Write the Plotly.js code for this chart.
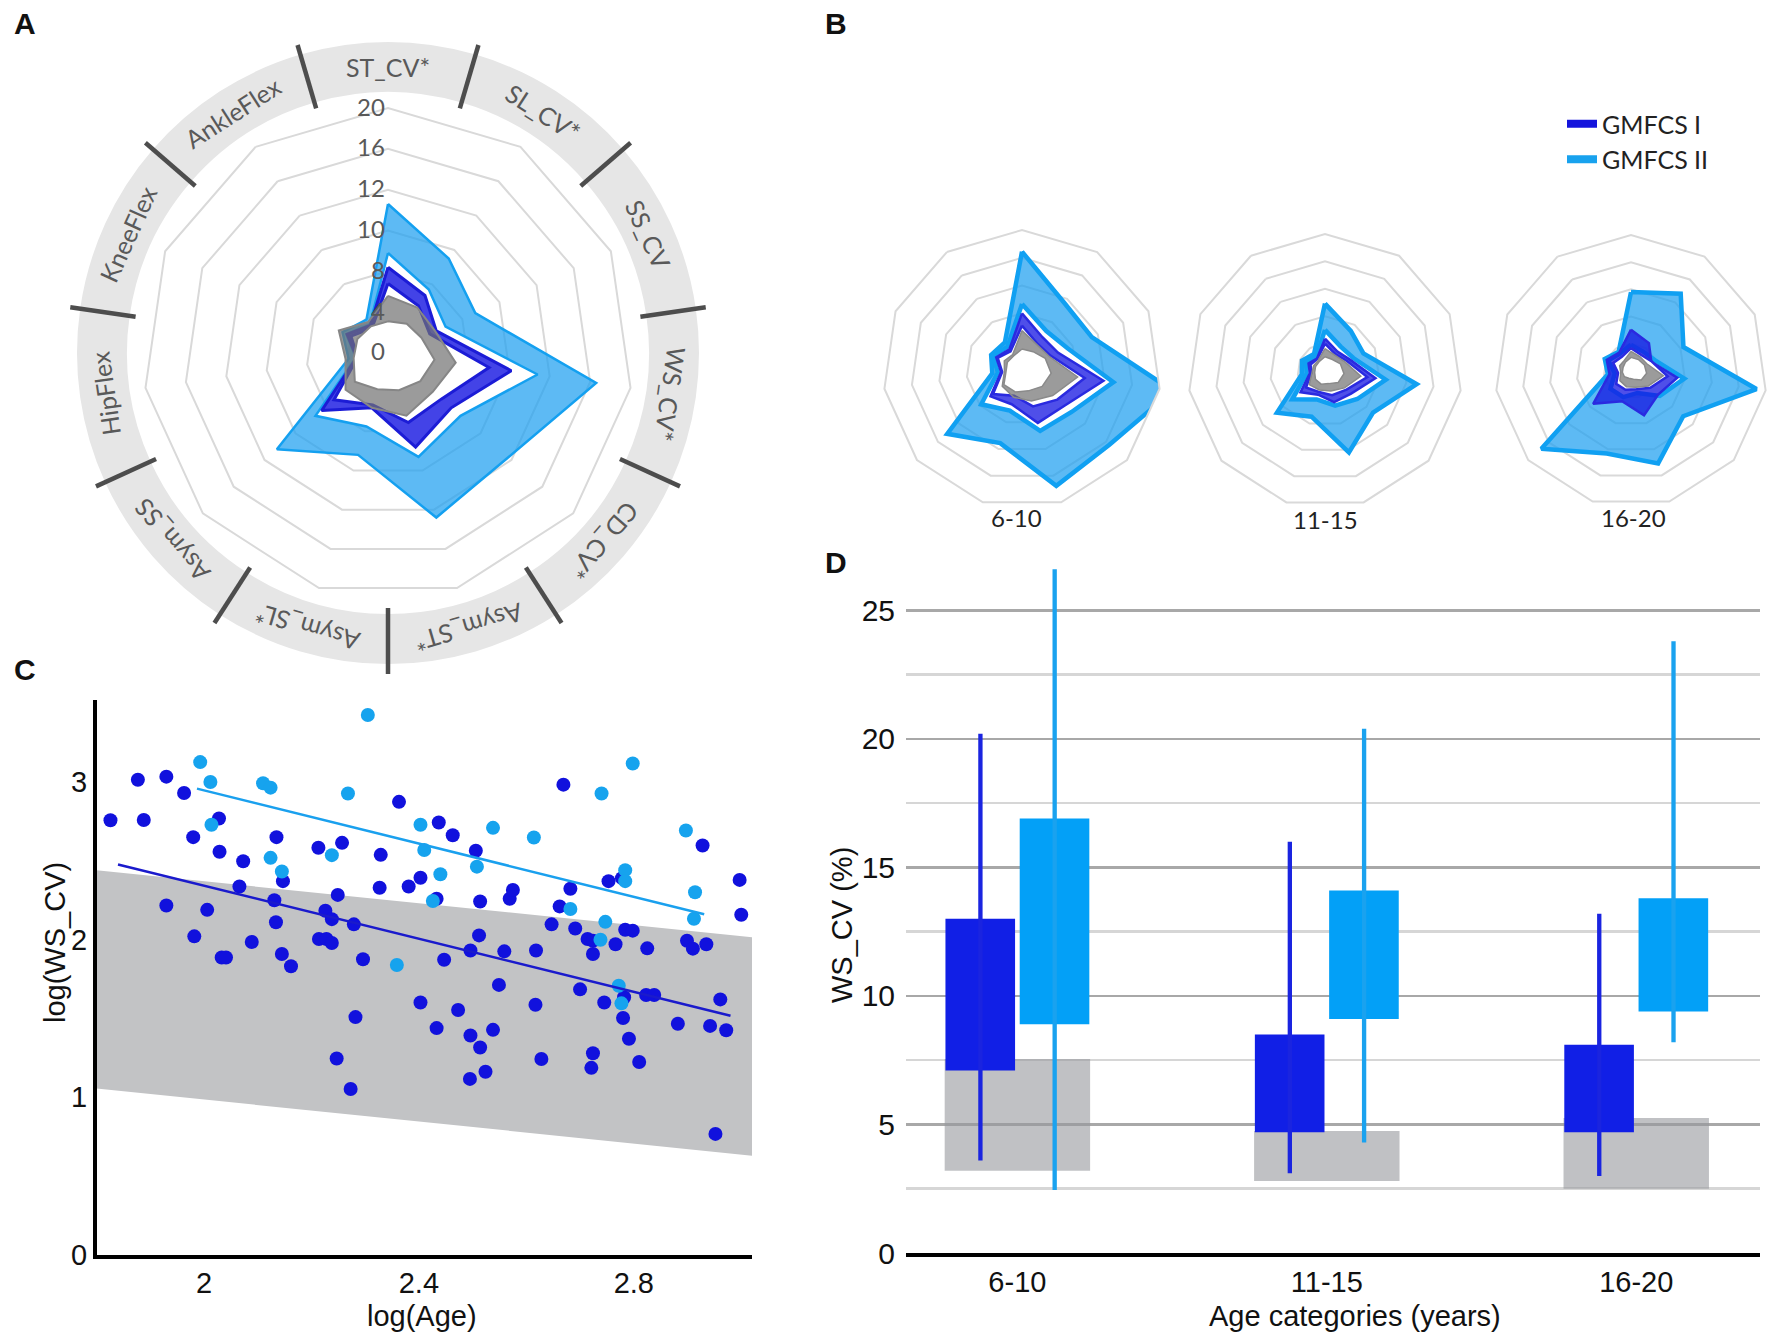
<!DOCTYPE html>
<html>
<head>
<meta charset="utf-8">
<script src="https://cdn.plot.ly/plotly-3.0.1.min.js"></script>
<style>html,body{margin:0;padding:0;background:#fff;}</style>
</head>
<body>
<div id="chart" style="width:1772px;height:1336px"></div>
<script>
// ---------------- DATA ----------------
// Panel A : radar of gait parameters (all ages)
const radarCategories = ['ST_CV*','SL_CV*','SS_CV','WS_CV*','CD_CV*','Asym_ST*','Asym_SL*','Asym_SS','HipFlex','KneeFlex','AnkleFlex'];
const radialTickLabels = [0, 4, 8, 10, 12, 16, 20];
const aGmfcs2Upper = [11.3, 9.5, 8.7, 16.6, 11.8, 12.8, 9.2, 11.2, 3.9, 4.9, 3.9];
const aGmfcs2Lower = [8.9, 7.4, 6.2, 11.4, 8.7, 9.3, 7.5, 8.7, 3.2, 4.5, 3.3];
const aGmfcs1Upper = [8.2, 6.7, 5.2, 10.1, 8.1, 8.8, 5.6, 8.3, 3.1, 4.4, 3.2];
const aGmfcs1Lower = [6.8, 5.5, 4.5, 9.0, 6.9, 7.1, 5.3, 7.0, 3.0, 4.0, 2.9];
const aTdUpper     = [5.6, 5.3, 5.1, 6.7, 5.8, 6.4, 5.6, 5.5, 4.2, 5.3, 3.6];
const aTdLower     = [3.1, 3.4, 3.6, 4.6, 4.2, 3.8, 3.7, 4.3, 3.4, 3.3, 3.1];

// Panel B : radars per age category
const ageCategories = ['6-10', '11-15', '16-20'];
const b610Gmfcs2Upper = [21.1, 14.1, 13.8, 27.4, 20.8, 21.9, 13.9, 17.8, 5.4, 6.1, 5.7];
const b610Gmfcs2Lower = [11.7, 8.1, 9.0, 16.6, 11.8, 11.6, 7.8, 9.7, 4.4, 5.7, 4.8];
const b610Gmfcs1Upper = [10.0, 6.8, 7.1, 14.8, 10.1, 10.1, 6.6, 7.5, 3.8, 5.1, 4.2];
const b610Gmfcs1Lower = [7.8, 5.3, 5.7, 11.4, 8.4, 7.0, 5.0, 6.9, 3.6, 4.8, 3.8];
const b610TdUpper     = [6.9, 5.1, 5.4, 10.1, 7.3, 6.0, 5.3, 4.7, 3.2, 3.5, 3.1];
const b610TdLower     = [3.6, 3.7, 4.6, 5.3, 4.8, 4.1, 4.3, 4.3, 2.9, 2.9, 2.8];

const b1115Gmfcs2Upper = [12.3, 8.7, 7.7, 16.9, 11.6, 15.5, 8.7, 11.6, 4.3, 4.6, 3.7];
const b1115Gmfcs2Lower = [7.5, 5.3, 5.7, 11.2, 7.8, 6.6, 5.4, 7.9, 3.4, 3.8, 3.0];
const b1115Gmfcs1Upper = [5.9, 4.2, 5.0, 9.3, 6.3, 5.9, 4.5, 5.9, 2.8, 3.3, 2.7];
const b1115Gmfcs1Lower = [5.0, 3.6, 4.4, 7.8, 5.2, 4.6, 4.0, 4.6, 2.5, 2.9, 2.6];
const b1115TdUpper     = [4.1, 3.4, 4.0, 6.6, 4.7, 3.8, 3.6, 3.8, 2.4, 2.3, 2.3];
const b1115TdLower     = [2.6, 2.5, 3.1, 3.5, 3.2, 2.4, 2.5, 2.3, 1.9, 1.9, 2.0];

const b1620Gmfcs2Upper = [14.5, 16.9, 10.6, 23.3, 12.7, 17.7, 15.8, 21.8, 4.3, 5.3, 4.2];
const b1620Gmfcs2Lower = [4.8, 4.2, 4.8, 9.9, 7.0, 4.2, 5.0, 5.0, 3.0, 4.6, 3.8];
const b1620Gmfcs1Upper = [7.6, 6.1, 4.1, 8.6, 6.6, 8.5, 5.8, 9.2, 4.0, 4.9, 4.0];
const b1620Gmfcs1Lower = [4.2, 3.5, 4.2, 6.8, 4.7, 3.5, 3.6, 3.6, 2.4, 3.6, 3.1];
const b1620TdUpper     = [3.6, 3.1, 3.2, 6.0, 4.2, 3.1, 3.0, 2.7, 1.9, 2.3, 2.3];
const b1620TdLower     = [2.5, 2.5, 2.7, 2.9, 2.5, 1.6, 1.4, 1.6, 1.6, 1.6, 1.9];

// Panel C : log(WS_CV) vs log(Age)
const cGmfcs1LogAge = [1.826,1.877,1.888,1.930,1.963,1.980,2.028,2.029,1.930,2.006,1.982,2.073,2.066,2.089,2.033,2.041,
  2.135,2.131,2.134,2.147,2.145,2.162,2.213,2.226,2.214,2.228,2.238,2.238,2.249,2.257,2.279,2.296,2.282,2.247,2.273,
  2.329,2.327,2.363,2.381,2.403,2.433,2.437,2.463,2.447,2.403,2.433,2.473,2.496,2.495,2.514,2.524,2.538,2.496,2.512,
  2.506,2.514,2.549,2.559,2.569,2.575,2.618,2.617,2.628,2.647,2.662,2.669,2.682,2.691,2.700,2.714,2.724,2.721,2.724,
  2.724,2.745,2.753,2.766,2.780,2.782,2.791,2.784,2.798,2.810,2.823,2.838,2.825,2.882,2.899,2.910,2.928,2.935,2.942,
  2.952,2.961,2.972,2.997,3.000,2.778];
const cGmfcs1LogWs = [2.757,3.014,2.759,3.034,2.930,2.650,2.768,2.558,2.217,2.189,2.021,2.497,2.337,1.985,1.887,1.887,
  2.650,2.250,2.110,2.371,1.909,1.831,2.583,2.183,2.004,2.004,1.979,2.130,2.284,2.614,2.097,1.876,1.509,1.246,1.053,
  2.538,2.329,2.874,2.337,2.393,2.259,2.743,2.662,1.873,1.601,1.439,1.554,1.392,1.117,1.316,1.162,1.428,1.931,2.027,
  2.564,2.242,1.713,1.926,2.259,2.315,1.931,1.587,1.243,2.097,2.211,2.983,2.323,2.071,1.685,2.004,1.993,1.187,1.280,
  1.909,1.601,2.371,1.971,1.503,1.635,1.372,2.063,2.057,1.224,1.649,1.649,1.945,1.467,1.993,1.943,2.597,1.971,1.453,
  0.768,1.621,1.425,2.379,2.158,2.390];
const cGmfcs2LogAge = [1.993,2.012,2.014,2.110,2.124,2.124,2.145,2.268,2.238,2.305,2.359,2.403,2.410,2.440,2.426,2.508,
  2.538,2.614,2.682,2.738,2.740,2.747,2.772,2.777,2.784,2.784,2.798,2.897,2.914,2.912];
const cGmfcs2LogWs = [3.126,3.000,2.729,2.992,2.964,2.519,2.432,2.927,2.536,3.425,1.839,2.729,2.569,2.415,2.245,2.463,
  2.709,2.648,2.194,1.999,2.927,2.113,1.708,1.596,2.441,2.371,3.117,2.692,2.301,2.133];
const cFitGmfcs1 = {x: [1.84, 2.98], y: [2.477, 1.517]};
const cFitGmfcs2 = {x: [1.987, 2.931], y: [2.958, 2.161]};
const cTdBandX = [1.80, 3.02];
const cTdBandUpper = [2.44, 2.015];
const cTdBandLower = [1.056, 0.63];

// Panel D : WS_CV (%) by age category
const dGmfcs1Q1 = [7.1, 4.7, 4.7];
const dGmfcs1Q3 = [13.0, 8.5, 8.1];
const dGmfcs1Min = [3.6, 3.1, 3.0];
const dGmfcs1Max = [20.2, 16.0, 13.2];
const dGmfcs2Q1 = [8.9, 9.1, 9.4];
const dGmfcs2Q3 = [16.9, 14.1, 13.8];
const dGmfcs2Min = [2.45, 4.3, 8.2];
const dGmfcs2Max = [26.6, 20.4, 23.8];
const dTdLow = [3.2, 2.8, 2.5];
const dTdHigh = [7.55, 4.75, 5.25];

// ---------------- HELPERS ----------------
const W = 1772, H = 1336;
const DB = '#1414DC', LB = '#18A2EE';
const A_CX = 388, A_CY = 353, A_R = 245;
function dom(cx, cy, R) {
  return {x: [(cx - R) / W, (cx + R) / W], y: [1 - (cy + R) / H, 1 - (cy - R) / H]};
}
function closed(a) { return a.concat([a[0]]); }
function toPos(v) { // map label value to evenly spaced ring position
  const t = radialTickLabels;
  for (let i = 1; i < t.length; i++) {
    if (v <= t[i]) return (i - 1) + (v - t[i - 1]) / (t[i] - t[i - 1]);
  }
  const n = t.length;
  return (n - 1) + (v - t[n - 1]) / (t[n - 1] - t[n - 2]);
}
function band(sub, upper, lower, fill, line, lw, map) {
  const th = closed(radarCategories);
  return [
    {type: 'scatterpolar', subplot: sub, r: closed(upper.map(map)), theta: th, mode: 'lines',
     fill: 'toself', fillcolor: fill, line: {color: line, width: lw}, showlegend: false, cliponaxis: false, hoverinfo: 'skip'},
    {type: 'scatterpolar', subplot: sub, r: closed(lower.map(map)), theta: th, mode: 'lines',
     fill: 'toself', fillcolor: '#ffffff', line: {color: line, width: lw}, showlegend: false, cliponaxis: false, hoverinfo: 'skip'}
  ];
}
const ident = v => v;
const LBFILL = 'rgba(30,160,240,0.72)', DBFILL = 'rgba(20,20,225,0.8)', TDFILL = 'rgba(112,112,112,0.7)';

// ---------------- TRACES ----------------
let traces = [];

// Panel A ring (polar2)
const nCat = radarCategories.length;
const step = 360 / nCat;
const ringTheta = radarCategories.map((c, i) => i * step);
traces.push({type: 'barpolar', subplot: 'polar2', r: radarCategories.map(() => 50), base: radarCategories.map(() => 261),
  theta: ringTheta, width: radarCategories.map(() => step), marker: {color: '#e6e6e6', line: {width: 0}},
  showlegend: false, hoverinfo: 'skip'});
let divR = [], divT = [];
radarCategories.forEach((c, i) => { divR.push(255, 321, null); divT.push((i + 0.5) * step, (i + 0.5) * step, null); });
traces.push({type: 'scatterpolar', subplot: 'polar2', r: divR, theta: divT, mode: 'lines',
  line: {color: '#4d4d4d', width: 4.5}, showlegend: false, hoverinfo: 'skip', cliponaxis: false});

// Panel A radar
traces = traces.concat(band('polar', aGmfcs2Upper, aGmfcs2Lower, LBFILL, '#14A0F0', 2.5, toPos));
traces = traces.concat(band('polar', aGmfcs1Upper, aGmfcs1Lower, DBFILL, '#1c1cd6', 3, toPos));
traces = traces.concat(band('polar', aTdUpper, aTdLower, TDFILL, '#868686', 2, toPos));

// Panel B radars
const bSets = [
  ['polar3', b610Gmfcs2Upper, b610Gmfcs2Lower, b610Gmfcs1Upper, b610Gmfcs1Lower, b610TdUpper, b610TdLower],
  ['polar4', b1115Gmfcs2Upper, b1115Gmfcs2Lower, b1115Gmfcs1Upper, b1115Gmfcs1Lower, b1115TdUpper, b1115TdLower],
  ['polar5', b1620Gmfcs2Upper, b1620Gmfcs2Lower, b1620Gmfcs1Upper, b1620Gmfcs1Lower, b1620TdUpper, b1620TdLower]
];
bSets.forEach(s => {
  traces = traces.concat(band(s[0], s[1], s[2], LBFILL, '#10A0F2', 4.5, ident));
  traces = traces.concat(band(s[0], s[3], s[4], 'rgba(20,20,225,0.75)', '#2a2ae0', 2.5, ident));
  traces = traces.concat(band(s[0], s[5], s[6], TDFILL, '#8a8a8a', 1.5, ident));
});

// Panel C
traces.push({type: 'scatter', x: [cTdBandX[0], cTdBandX[1], cTdBandX[1], cTdBandX[0]],
  y: [cTdBandUpper[0], cTdBandUpper[1], cTdBandLower[1], cTdBandLower[0]], fill: 'toself',
  fillcolor: '#c2c3c5', line: {width: 0}, mode: 'lines', showlegend: false, hoverinfo: 'skip', xaxis: 'x', yaxis: 'y'});
traces.push({type: 'scatter', x: cGmfcs1LogAge, y: cGmfcs1LogWs, mode: 'markers',
  marker: {color: '#1111DD', size: 14}, showlegend: false, xaxis: 'x', yaxis: 'y'});
traces.push({type: 'scatter', x: cGmfcs2LogAge, y: cGmfcs2LogWs, mode: 'markers',
  marker: {color: '#16A3EE', size: 14}, showlegend: false, xaxis: 'x', yaxis: 'y'});
traces.push({type: 'scatter', x: cFitGmfcs1.x, y: cFitGmfcs1.y, mode: 'lines',
  line: {color: '#1a1acc', width: 2.5}, showlegend: false, xaxis: 'x', yaxis: 'y'});
traces.push({type: 'scatter', x: cFitGmfcs2.x, y: cFitGmfcs2.y, mode: 'lines',
  line: {color: '#1aa0ee', width: 2.5}, showlegend: false, xaxis: 'x', yaxis: 'y'});

// Legend entries
traces.push({type: 'scatter', x: [null], y: [null], mode: 'lines', name: 'GMFCS I', legendgroup: 'g1',
  line: {color: DB, width: 8}, xaxis: 'x', yaxis: 'y'});
traces.push({type: 'scatter', x: [null], y: [null], mode: 'lines', name: 'GMFCS II', legendgroup: 'g2',
  line: {color: LB, width: 8}, xaxis: 'x', yaxis: 'y'});

// Panel D
const dx = ageCategories.map((c, i) => i);
const diff = (a, b) => a.map((v, i) => v - b[i]);
traces.push({type: 'bar', x: dx, y: diff(dTdHigh, dTdLow), base: dTdLow, offset: -0.235, width: 0.47,
  marker: {color: 'rgba(150,152,156,0.6)', line: {width: 0}}, showlegend: false, xaxis: 'x2', yaxis: 'y2', hoverinfo: 'skip'});
traces.push({type: 'bar', x: dx, y: diff(dGmfcs1Q3, dGmfcs1Q1), base: dGmfcs1Q1, offset: -0.2325, width: 0.225,
  marker: {color: '#111FE6', line: {width: 0}}, showlegend: false, xaxis: 'x2', yaxis: 'y2'});
traces.push({type: 'bar', x: dx, y: diff(dGmfcs2Q3, dGmfcs2Q1), base: dGmfcs2Q1, offset: 0.0075, width: 0.225,
  marker: {color: '#03A0F7', line: {width: 0}}, showlegend: false, xaxis: 'x2', yaxis: 'y2'});
traces.push({type: 'bar', x: dx, y: diff(dGmfcs1Max, dGmfcs1Min), base: dGmfcs1Min, offset: -0.1265, width: 0.014,
  marker: {color: '#1a24e0', line: {width: 0}}, showlegend: false, xaxis: 'x2', yaxis: 'y2'});
traces.push({type: 'bar', x: dx, y: diff(dGmfcs2Max, dGmfcs2Min), base: dGmfcs2Min, offset: 0.1135, width: 0.014,
  marker: {color: '#1aa2ef', line: {width: 0}}, showlegend: false, xaxis: 'x2', yaxis: 'y2'});

// ---------------- LAYOUT ----------------
const radarBase = (cx, cy, R) => ({
  domain: dom(cx, cy, R), bgcolor: 'rgba(0,0,0,0)', gridshape: 'linear',
  radialaxis: {range: [0, 25], tickvals: [5, 10, 15, 20], showticklabels: false, ticks: '', showline: false,
    gridcolor: '#d9d9d9', gridwidth: 2},
  angularaxis: {type: 'category', categoryarray: radarCategories, rotation: 90, direction: 'clockwise',
    showticklabels: false, ticks: '', showgrid: false, showline: true, linecolor: '#d9d9d9', linewidth: 2}
});

const annotations = [];
// radial tick labels of panel A (evenly spaced rings)
radialTickLabels.forEach((v, i) => {
  annotations.push({xref: 'paper', yref: 'paper', x: (A_CX - 1) / W, y: 1 - (A_CY - 2 - i * A_R / (radialTickLabels.length - 1)) / H,
    text: String(v), showarrow: false, xanchor: 'right', yanchor: 'middle',
    font: {family: 'Lato, Open Sans, sans-serif', size: 24, color: '#595959'}});
});
// ring labels
radarCategories.forEach((c, i) => {
  const th = i * step, rad = th * Math.PI / 180, rr = 286;
  annotations.push({xref: 'paper', yref: 'paper', x: (A_CX + rr * Math.sin(rad)) / W, y: 1 - (A_CY - rr * Math.cos(rad)) / H,
    text: c, showarrow: false, xanchor: 'center', yanchor: 'middle', textangle: th > 180 ? th - 360 : th,
    font: {family: 'Lato, Open Sans, sans-serif', size: 25, color: '#595959'}});
});
// B labels
[[1017, 517], [1325, 519], [1633, 517]].forEach((p, i) => {
  annotations.push({xref: 'paper', yref: 'paper', x: p[0] / W, y: 1 - p[1] / H, text: ageCategories[i], showarrow: false,
    xanchor: 'center', yanchor: 'middle', font: {family: 'Lato, Open Sans, sans-serif', size: 24, color: '#222'}});
});
// panel letters
[['A', 25, 23], ['B', 836, 23], ['C', 25, 669], ['D', 836, 562]].forEach(p => {
  annotations.push({xref: 'paper', yref: 'paper', x: p[1] / W, y: 1 - p[2] / H, text: '<b>' + p[0] + '</b>', showarrow: false,
    xanchor: 'center', yanchor: 'middle', font: {family: 'Liberation Sans, Arial, sans-serif', size: 30, color: '#111'}});
});
// axis titles placed as in the reference
const axFont = {family: 'Liberation Sans, Arial, sans-serif', size: 29, color: '#111'};
const dFont = {family: 'Liberation Sans, Arial, sans-serif', size: 29, color: '#111'};
annotations.push({xref: 'paper', yref: 'paper', x: 55 / W, y: 1 - 943 / H, text: 'log(WS_CV)', textangle: -90,
  showarrow: false, xanchor: 'center', yanchor: 'middle', font: axFont});
annotations.push({xref: 'paper', yref: 'paper', x: 422 / W, y: 1 - 1316 / H, text: 'log(Age)',
  showarrow: false, xanchor: 'center', yanchor: 'middle', font: axFont});
annotations.push({xref: 'paper', yref: 'paper', x: 842 / W, y: 1 - 925 / H, text: 'WS_CV (%)', textangle: -90,
  showarrow: false, xanchor: 'center', yanchor: 'middle', font: dFont});
annotations.push({xref: 'paper', yref: 'paper', x: 1355 / W, y: 1 - 1316 / H, text: 'Age categories (years)',
  showarrow: false, xanchor: 'center', yanchor: 'middle', font: dFont});

const layout = {
  width: W, height: H, margin: {l: 0, r: 0, t: 0, b: 0}, paper_bgcolor: '#ffffff', plot_bgcolor: 'rgba(0,0,0,0)',
  showlegend: true, barmode: 'overlay',
  legend: {x: 1562 / W, y: 1 - 101 / H, xanchor: 'left', yanchor: 'top', bgcolor: 'rgba(0,0,0,0)', itemwidth: 30,
    font: {family: 'Lato, Open Sans, sans-serif', size: 25, color: '#222'}, tracegroupgap: 0},
  polar: {
    domain: dom(A_CX, A_CY, A_R), bgcolor: 'rgba(0,0,0,0)', gridshape: 'linear',
    radialaxis: {range: [0, 6], tickvals: radialTickLabels.map((v, i) => i), showticklabels: false,
      angle: 90, showline: false, ticks: '', gridcolor: '#d9d9d9', gridwidth: 2},
    angularaxis: {type: 'category', categoryarray: radarCategories, rotation: 90, direction: 'clockwise',
      showticklabels: false, ticks: '', showgrid: false, showline: true, linecolor: '#d9d9d9', linewidth: 2}
  },
  polar2: {
    domain: dom(A_CX, A_CY, 326), bgcolor: 'rgba(0,0,0,0)',
    radialaxis: {range: [0, 326], visible: false},
    angularaxis: {rotation: 90, direction: 'clockwise', visible: false}
  },
  polar3: radarBase(1022, 369, 139),
  polar4: radarBase(1325, 371, 137),
  polar5: radarBase(1631, 371, 136),
  xaxis: {domain: [96.5 / W, 752 / W], range: [1.8, 3.02], tickvals: [2, 2.4, 2.8], ticktext: ['2', '2.4', '2.8'],
    showline: true, linecolor: '#000', linewidth: 3.5, ticks: '', showgrid: false, zeroline: false,
    tickfont: axFont, anchor: 'y'},
  yaxis: {domain: [1 - 1255 / H, 1 - 700 / H], range: [0, 3.52], tickvals: [0, 1, 2, 3],
    showline: true, linecolor: '#000', linewidth: 3.5, ticks: '', showgrid: false, zeroline: false,
    tickfont: axFont, anchor: 'x'},
  xaxis2: {domain: [906 / W, 1760 / W], range: [-0.36, 2.4], tickvals: dx, ticktext: ageCategories,
    showline: true, linecolor: '#000', linewidth: 4, ticks: '', showgrid: false, zeroline: false,
    tickfont: dFont, anchor: 'y2'},
  yaxis2: {domain: [1 - 1253 / H, 1 - 559 / H], range: [0, 27], dtick: 5, tick0: 0, showline: false, ticks: '',
    zeroline: false, gridcolor: '#a8a8a8', gridwidth: 2.5,
    minor: {dtick: 2.5, tick0: 0, showgrid: true, gridcolor: '#d6d6d6', gridwidth: 2.5, ticks: ''},
    ticklabelstandoff: 10, tickfont: {family: 'Liberation Sans, Arial, sans-serif', size: 30, color: '#111'}, anchor: 'x2'},
  annotations: annotations
};

Plotly.newPlot('chart', traces, layout, {staticPlot: true, displayModeBar: false});
</script>
</body>
</html>
